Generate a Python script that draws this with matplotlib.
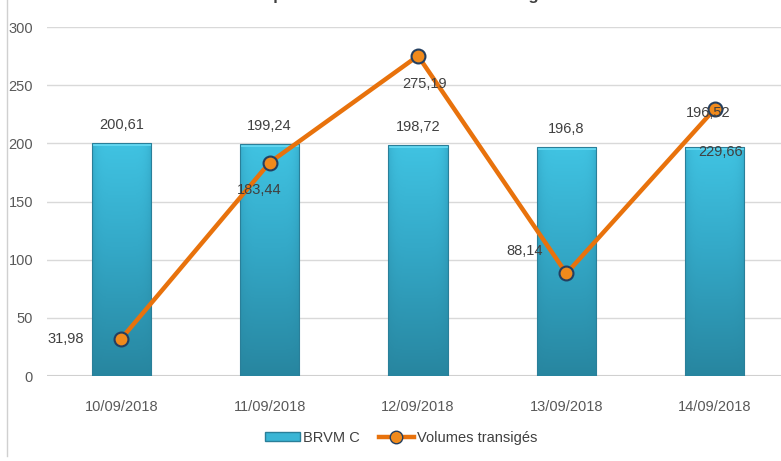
import matplotlib.pyplot as plt
import numpy as np
from matplotlib.lines import Line2D
from matplotlib.patches import Rectangle
from matplotlib.colors import LinearSegmentedColormap

plt.rcParams['font.family'] = ['Liberation Sans', 'DejaVu Sans']

dates = ['10/09/2018', '11/09/2018', '12/09/2018', '13/09/2018', '14/09/2018']
brvm_c = [200.61, 199.24, 198.72, 196.8, 196.52]
volumes = [31.98, 183.44, 275.19, 88.14, 229.66]
brvm_labels = ['200,61', '199,24', '198,72', '196,8', '196,52']
vol_labels = ['31,98', '183,44', '275,19', '88,14', '229,66']

W, H = 781, 461
fig = plt.figure(figsize=(W / 100, H / 100), dpi=100)
ax = fig.add_axes([47 / W, 85 / H, 742 / W, 349 / H])

x = np.arange(len(dates))
bar_w = 0.40
fs = 10.5

# bars: vertical gradient + darker sides, clipped to each bar
vert = np.linspace(0, 1, 200).reshape(-1, 1)
horiz = 1 - 0.35 * np.abs(np.linspace(-1, 1, 60)) ** 6
shade = vert * horiz
cmap = LinearSegmentedColormap.from_list('teal', ['#1F6F86', '#2A8DA8', '#34A9C8', '#40C3E2'])
bars = ax.bar(x, brvm_c, width=bar_w, color='none', edgecolor='#2A7F99',
              linewidth=0.8, zorder=2)
for b in bars:
    bx, by = b.get_x(), b.get_y()
    bw, bh = b.get_width(), b.get_height()
    im = ax.imshow(0.25 + 0.75 * shade, extent=[bx, bx + bw, by, by + bh], origin='lower',
                   cmap=cmap, vmin=0, vmax=1, aspect='auto', zorder=1.5)
    im.set_clip_path(b)
    ax.add_patch(Rectangle((bx, by + bh - 2.5), bw, 2.5, color='#62D6F0', zorder=1.8, lw=0))

ax.plot(x, volumes, color='#E8720C', lw=3.2, zorder=3,
        marker='o', markersize=10, markerfacecolor='#F08A1C',
        markeredgecolor='#243F60', markeredgewidth=1.5)

# bar labels
bar_off = [(0, 18), (0, 18), (0, 18), (0, 18), (-7, 34)]
for i, lab in enumerate(brvm_labels):
    ax.annotate(lab, (x[i], brvm_c[i]), xytext=bar_off[i], textcoords='offset pixels',
                ha='center', va='center', fontsize=fs, color='#404040', zorder=4)

# line labels
vol_off = [(-55, 0), (-10, -27), (7, -28), (-42, 22), (6, -43)]
for i, lab in enumerate(vol_labels):
    ax.annotate(lab, (x[i], volumes[i]), xytext=vol_off[i], textcoords='offset pixels',
                ha='center', va='center', fontsize=fs, color='#404040', zorder=4)

ax.set_xlim(-0.5, 4.5)
ax.set_ylim(0, 300)
ax.set_yticks(np.arange(0, 301, 50))
ax.set_xticks(x)
ax.set_xticklabels(dates)
ax.tick_params(axis='both', length=0, labelsize=fs, labelcolor='#595959')
ax.tick_params(axis='x', pad=17)
ax.tick_params(axis='y', pad=10)
ax.grid(axis='y', color='#D9D9D9', lw=1, zorder=0)
ax.set_axisbelow(True)
for s in ax.spines.values():
    s.set_visible(False)
ax.axhline(0, color='#D0D0D0', lw=1.5, zorder=1)

# chart border on the left
fig.add_artist(Line2D([7 / W, 7 / W], [5 / H, 1], color='#D0D0D0', lw=1))

# title, mostly cut off at the top (as in the original screenshot)
fig.text(0.458, 1.0, 'Evolution comparée BRVM C et volumes transigés',
         ha='center', va='baseline', fontsize=12, fontweight='bold', color='#404040')

handles = [Rectangle((0, 0), 1, 1, facecolor='#3AB5D5', edgecolor='#2A7F99'),
           Line2D([], [], color='#E8720C', lw=3.2, marker='o', markersize=9,
                  markerfacecolor='#F08A1C', markeredgecolor='#243F60')]
fig.legend(handles, ['BRVM C', 'Volumes transigés'], loc='center',
           bbox_to_anchor=(401 / W, 1 - 438 / H), ncol=2, frameon=False,
           fontsize=fs, handlelength=2.4, handleheight=0.6, columnspacing=1.3,
           handletextpad=0.2, labelcolor='#404040')

fig.savefig('out.png', dpi=100)
